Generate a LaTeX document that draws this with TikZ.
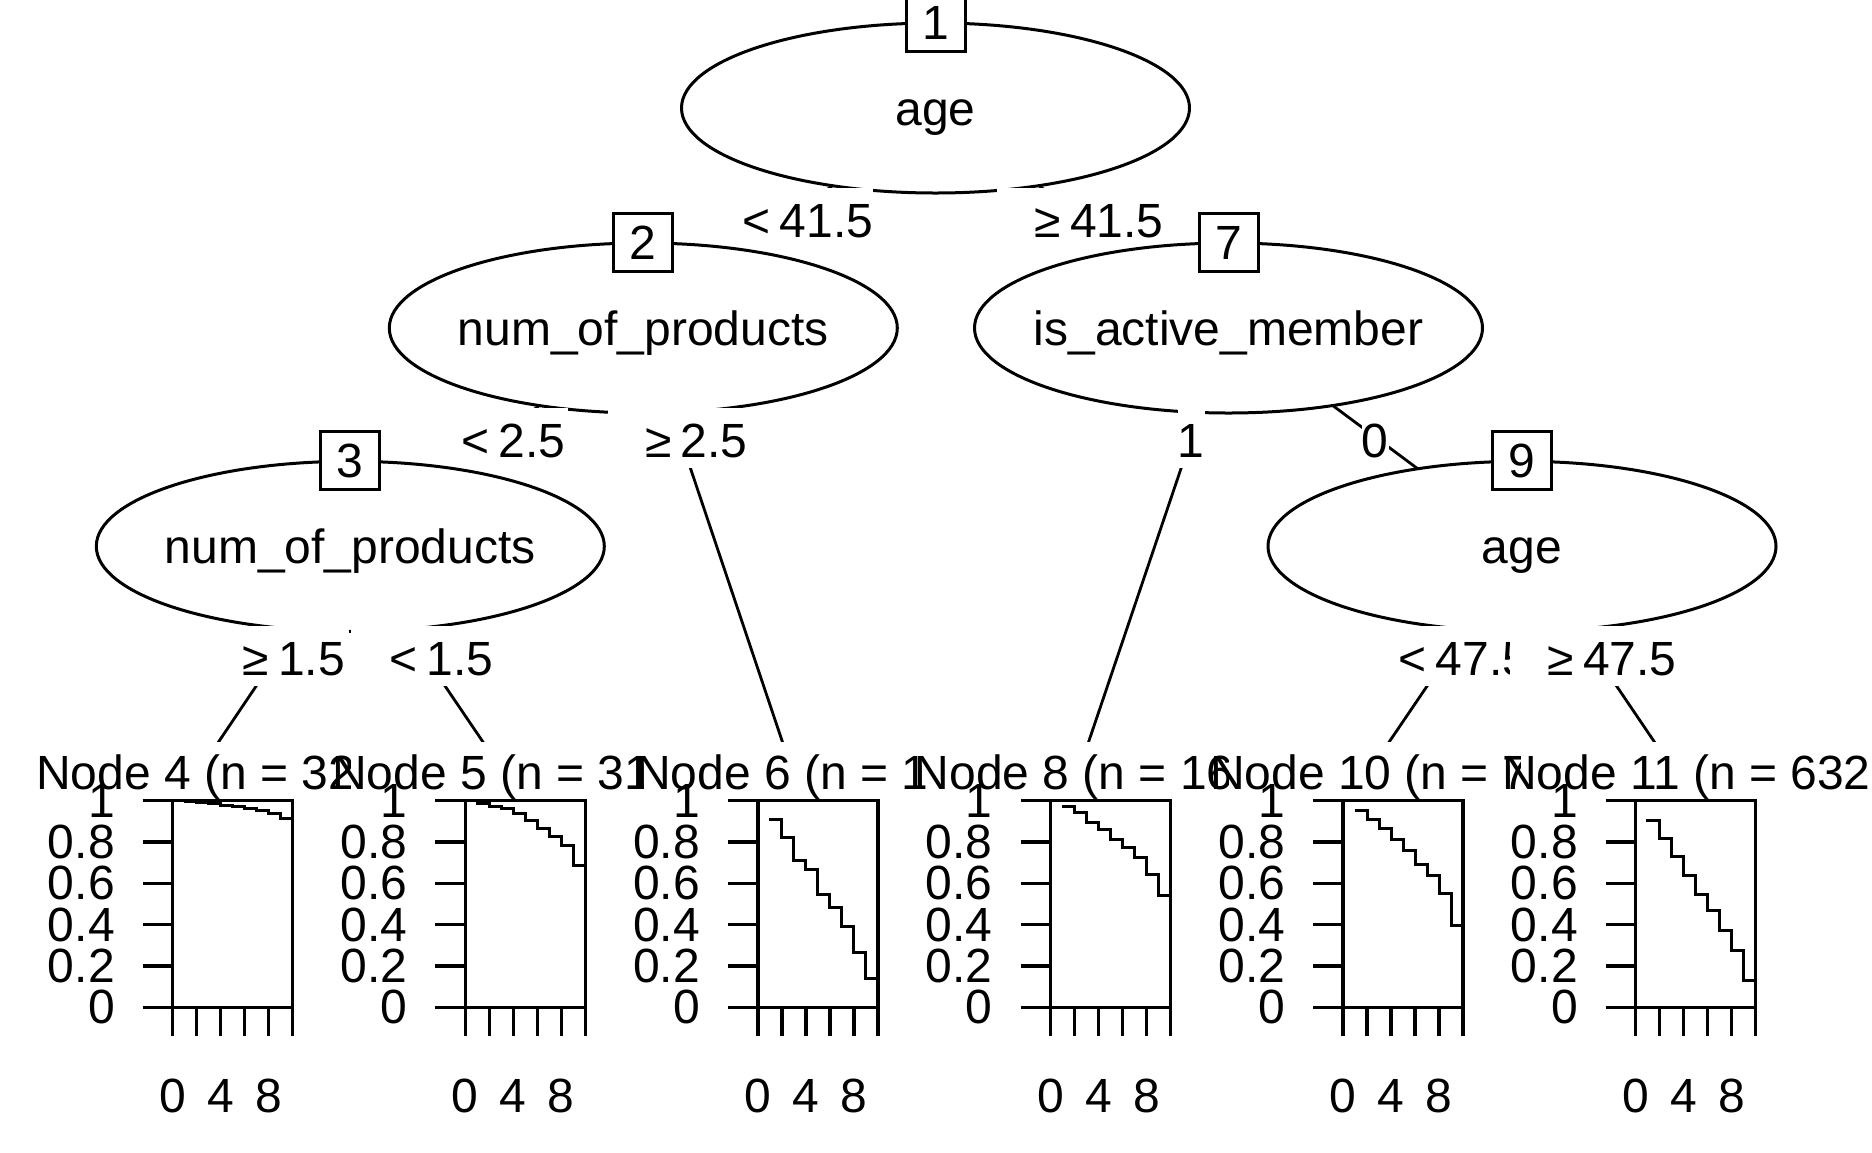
\documentclass[tikz,border=0pt]{standalone}
\usepackage{fontspec}
\setmainfont{Liberation Sans}
\usetikzlibrary{shapes.geometric}
\pgfdeclarelayer{edgelayer}
\pgfsetlayers{edgelayer,main}
\newcommand{\mysurv}[3]{%
\begin{scope}[shift={(#1,1007.3)}, xscale=12, yscale=-206.6]
\draw[frame] (0,0) rectangle (10,1);
\foreach \s/\l [count=\i] in {0/0,0.2/0.2,0.4/0.4,0.6/0.6,0.8/0.8,1/1}{
  \draw[frame] (-2.5,\s) -- (0,\s);
  \node[anchor=east] (#2y\i) at (-4.833,\s) {\l};
}
\foreach \t in {0,2,4,6,8,10}{\draw[frame] (\t,0) -- (\t,-0.14);}
\foreach \t in {0,4,8}{\node (#2x\t) at (\t,-0.427) {\t};}
\draw[curve] #3;
\end{scope}}
\begin{document}
\begin{tikzpicture}[x=1pt,y=-1pt,
  every node/.style={font=\fontsize{48}{58}\selectfont, inner sep=0pt, outer sep=0pt},
  ellip/.style={ellipse, draw, line width=3pt, fill=white, minimum width=508pt, minimum height=170pt},
  numbox/.style={rectangle, draw, line width=3pt, fill=white, minimum width=59pt, minimum height=58pt, text height=35pt, text depth=0pt},
  vtext/.style={text height=35pt, text depth=0pt},
  lblbox/.style={rectangle, fill=white, minimum height=60pt},
  lbltxt/.style={anchor=base west},
  lblmid/.style={anchor=base},
  connector/.style={line width=2.8pt},
  leafbg/.style={rectangle, fill=white, anchor=north west, minimum width=292.6pt, minimum height=410pt},
  ttl/.style={anchor=base west},
  frame/.style={line width=3.4pt},
  curve/.style={line width=3pt}]
\useasboundingbox (0,0) rectangle (1872,1152);
\coordinate (t4) at (205,762);
\coordinate (t5) at (496.6,762);
\coordinate (t6) at (789.2,762);
\coordinate (t8) at (1081.8,762);
\coordinate (t10) at (1375.5,762);
\coordinate (t11) at (1668,762);

% node 1
\node[ellip] (n1) at (935.5,108) {};
\node[vtext] (v1) at (n1.center) {age};
\node[numbox] (b1) at (935.5,22) {1};
\node[lblbox, minimum width=166pt, minimum height=62pt] (k2) at (790,218.5) {};
\node[lbltxt] (e2) at (742.7,237) {<\kern9pt 41.5};
\node[lblbox, minimum width=168pt, minimum height=62pt] (k7) at (1081,218.5) {};
\node[lbltxt] (e7) at (1034.8,237) {≥\kern9pt 41.5};
% node 2
\node[ellip] (n2) at (643.3,328) {};
\node[vtext] (v2) at (n2.center) {num\_of\_products};
\node[numbox] (b2) at (643.3,242) {2};
\node[lblbox, minimum width=144pt] (k3) at (496,437.5) {};
\node[lbltxt] (e3) at (461.3,457) {<\kern9pt 2.5};
\node[lblbox, minimum width=144pt] (k6) at (680,437.5) {};
\node[lbltxt] (e6) at (645.5,457) {≥\kern9pt 2.5};
% node 3
\node[ellip] (n3) at (350.3,546.3) {};
\node[vtext] (v3) at (n3.center) {num\_of\_products};
\node[numbox] (b3) at (350.3,460.3) {3};
\node[lblbox, minimum width=145pt] (k4) at (276.5,655.8) {};
\node[lbltxt] (e4) at (242.9,675.3) {≥\kern9pt 1.5};
\node[lblbox, minimum width=145pt] (k5) at (423.5,655.8) {};
\node[lbltxt] (e5) at (389.7,675.3) {<\kern9pt 1.5};
% leaf 4
\node[leafbg] (lf4) at (58.4,742) {};
\node[ttl] (tt4) at (36,789.5) {Node 4 (n = 32};
\mysurv{172.7}{p4}{(0.9,0.994) -| (2,0.991) -| (3,0.987) -| (4,0.979) -| (5,0.974) -| (6,0.963) -| (7,0.952) -| (8,0.939) -| (9,0.915) -- (10,0.915)}
% leaf 5
\node[leafbg] (lf5) at (350.9,742) {};
\node[ttl] (tt5) at (332,789.5) {Node 5 (n = 31};
\mysurv{465.3}{p5}{(0.9,0.987) -| (2,0.974) -| (3,0.96) -| (4,0.939) -| (5,0.903) -| (6,0.866) -| (7,0.826) -| (8,0.785) -| (9,0.684) -- (10,0.684)}
% leaf 6
\node[leafbg] (lf6) at (643.5,742) {};
\node[ttl] (tt6) at (636,789.5) {Node 6 (n = 1};
\mysurv{757.9}{p6}{(0.95,0.911) -| (2,0.823) -| (3,0.713) -| (4,0.668) -| (5,0.544) -| (6,0.482) -| (7,0.39) -| (8,0.266) -| (9,0.14) -- (10,0.14)}
% node 7
\node[ellip] (n7) at (1228.5,328) {};
\node[vtext] (v7) at (n7.center) {is\_active\_member};
\node[numbox] (b7) at (1228.5,242) {7};
\node[lblbox, minimum width=27pt] (k8) at (1191,437.5) {};
\node[lblmid] (e8) at (1191,457) {1};
\node[lblbox, minimum width=27pt] (k9) at (1375,437.5) {};
\node[lblmid] (e9) at (1375,457) {0};
% leaf 8
\node[leafbg] (lf8) at (936.1,742) {};
\node[ttl] (tt8) at (914.7,789.5) {Node 8 (n = 16};
\mysurv{1050.5}{p8}{(0.96,0.971) -| (2,0.942) -| (3,0.895) -| (4,0.863) -| (5,0.813) -| (6,0.773) -| (7,0.726) -| (8,0.642) -| (9,0.54) -- (10,0.54)}
% node 9
\node[ellip] (n9) at (1522,546.3) {};
\node[vtext] (v9) at (n9.center) {age};
\node[numbox] (b9) at (1522,460.3) {9};
\node[lblbox, minimum width=169pt] (k10) at (1446.5,655.8) {};
\node[lbltxt] (e10) at (1398.9,675.3) {<\kern9pt 47.5};
\node[lblbox, minimum width=169.5pt] (k11) at (1594.25,655.8) {};
\node[lbltxt] (e11) at (1547.8,675.3) {≥\kern9pt 47.5};
% leaf 10
\node[leafbg] (lf10) at (1228.7,742) {};
\node[ttl] (tt10) at (1210,789.5) {Node 10 (n = 7};
\mysurv{1343.1}{p10}{(0.96,0.955) -| (2,0.911) -| (3,0.866) -| (4,0.813) -| (5,0.758) -| (6,0.692) -| (7,0.637) -| (8,0.552) -| (9,0.394) -- (10,0.394)}
% leaf 11
\node[leafbg] (lf11) at (1521.3,742) {};
\node[ttl] (tt11) at (1502,789.5) {Node 11 (n = 632};
\mysurv{1635.7}{p11}{(0.88,0.902) -| (2,0.815) -| (3,0.729) -| (4,0.637) -| (5,0.544) -| (6,0.468) -| (7,0.371) -| (8,0.273) -| (9,0.132) -- (10,0.132)}

\begin{pgfonlayer}{edgelayer}
\fill[white] (0,0) rectangle (1872,1152);
\draw[connector] (n1.center) -- (n2.center);
\draw[connector] (n1.center) -- (n7.center);
\draw[connector] (n2.center) -- (n3.center);
\draw[connector] (n2.center) -- (t6);
\draw[connector] (n3.center) -- (t4);
\draw[connector] (n3.center) -- (t5);
\draw[connector] (n7.center) -- (t8);
\draw[connector] (n7.center) -- (n9.center);
\draw[connector] (n9.center) -- (t10);
\draw[connector] (n9.center) -- (t11);
\end{pgfonlayer}
\end{tikzpicture}
\end{document}
